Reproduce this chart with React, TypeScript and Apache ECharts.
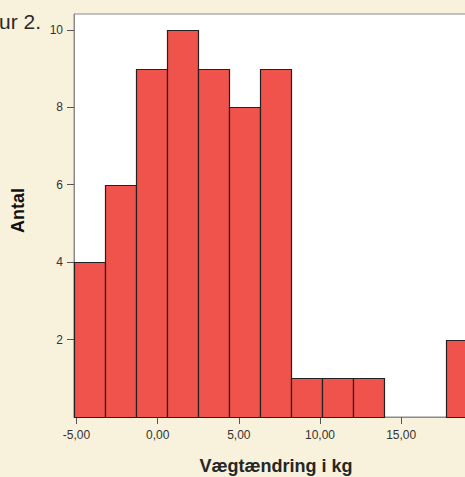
import React, { useEffect, useRef } from "react";
import * as echarts from "echarts";

// Histogram bin edges (kg) and counts
const binStarts = [-5.15, -3.24, -1.33, 0.58, 2.49, 4.4, 6.31, 8.22, 10.13, 12.04, 13.95, 15.86, 17.77];
const binEnds = [-3.24, -1.33, 0.58, 2.49, 4.4, 6.31, 8.22, 10.13, 12.04, 13.95, 15.86, 17.77, 19.68];
const counts = [4, 6, 9, 10, 9, 8, 9, 1, 1, 1, 0, 0, 2];
const xTicks = [-5, 0, 5, 10, 15];
const yTicks = [2, 4, 6, 8, 10];

const FONT = "Liberation Sans, Arial, sans-serif";

export default function App() {
  const ref = useRef<HTMLDivElement>(null);
  useEffect(() => {
    if (!ref.current) return;
    const chart = echarts.init(ref.current, undefined, { renderer: "svg" });
    const data = binStarts.map((s, i) => [s, binEnds[i], counts[i]]);
    chart.setOption({
      animation: false,
      backgroundColor: "#F8F1DC",
      textStyle: { fontFamily: FONT },
      grid: {
        left: 74,
        top: 14,
        bottom: 60,
        right: -13,
        outerBoundsMode: "none",
        containLabel: false,
        show: true,
        backgroundColor: "#ffffff",
        borderColor: "#8a8a8a",
        borderWidth: 1,
      },
      xAxis: {
        type: "value",
        min: -5.15,
        max: 19.73,
        splitLine: { show: false },
        axisLine: { show: true, onZero: false, lineStyle: { color: "#8a8a8a", width: 1 } },
        axisTick: {
          show: true,
          length: 7,
          lineStyle: { color: "#555" },
          customValues: xTicks,
        },
        axisLabel: {
          customValues: xTicks,
          color: "#333",
          fontSize: 12,
          fontFamily: FONT,
          margin: 12,
          formatter: (v: number) => v.toFixed(2).replace(".", ","),
        },
        name: "Vægtændring i kg",
        nameLocation: "middle",
        nameGap: 40,
        nameTextStyle: {
          fontSize: 18,
          fontWeight: "bold",
          color: "#262626",
          fontFamily: FONT,
        },
      },
      yAxis: {
        type: "value",
        min: 0,
        max: 10.41,
        splitLine: { show: false },
        axisLine: { show: true, onZero: false, lineStyle: { color: "#8a8a8a", width: 1 } },
        axisTick: {
          show: true,
          length: 7,
          lineStyle: { color: "#555" },
          customValues: yTicks,
        },
        axisLabel: {
          customValues: yTicks,
          color: "#333",
          fontSize: 12,
          fontFamily: FONT,
          margin: 11,
        },
        name: "Antal",
        nameLocation: "middle",
        nameGap: 47,
        nameRotate: 90,
        nameTextStyle: {
          fontSize: 18,
          fontWeight: "bold",
          color: "#111",
          fontFamily: FONT,
          padding: [0, 0, 0, 10],
        },
      },
      graphic: [
        {
          type: "text",
          right: 424,
          top: 11,
          style: {
            text: "Figur 2.",
            fontSize: 21,
            fontFamily: FONT,
            fill: "#2a2a2a",
          },
        },
      ],
      series: [
        {
          type: "custom",
          data,
          renderItem: (params: any, api: any) => {
            const s = api.value(0);
            const e = api.value(1);
            const c = api.value(2);
            if (!c) return null;
            const p0 = api.coord([s, c]);
            const p1 = api.coord([e, 0]);
            return {
              type: "rect",
              shape: {
                x: Math.round(p0[0]) + 0.5,
                y: Math.round(p0[1]) + 0.5,
                width: Math.round(p1[0]) - Math.round(p0[0]),
                height: Math.round(p1[1]) - Math.round(p0[1]),
              },
              style: { fill: "#F0524C", stroke: "#222", lineWidth: 1.2 },
            };
          },
          encode: { x: [0, 1], y: 2 },
        },
      ],
    });
    return () => chart.dispose();
  }, []);
  return (
    <div
      ref={ref}
      style={{ position: "fixed", left: 0, top: 0, width: 465, height: 477 }}
    />
  );
}
